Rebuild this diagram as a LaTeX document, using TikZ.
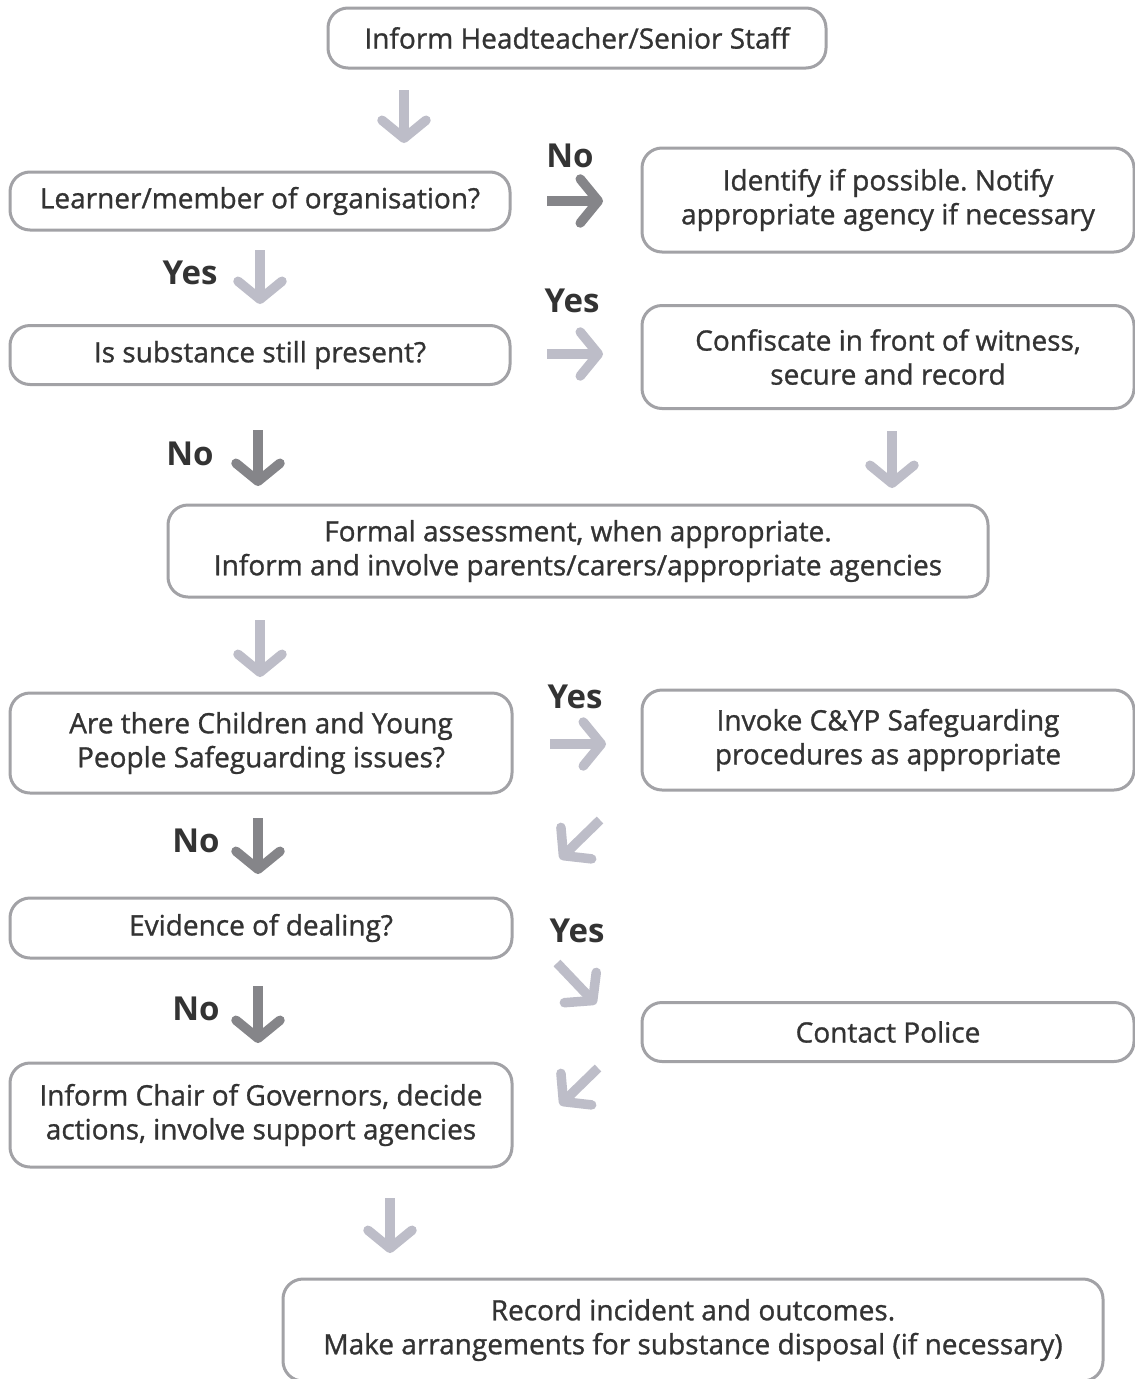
\documentclass[tikz,border=0pt]{standalone}
\usepackage{fontspec}
\setmainfont{Open Sans}
\newfontfamily\medfont{Open Sans}[FakeBold=1]
\usetikzlibrary{arrows.meta}
\frenchspacing
\definecolor{boxline}{HTML}{A2A2A6}
\definecolor{boxtext}{HTML}{333333}
\definecolor{arrlight}{HTML}{BDBDC8}
\definecolor{arrdark}{HTML}{858589}
\tikzset{
  box/.style={draw=boxline, line width=3pt, rounded corners=20pt, fill=white,
    align=center, inner sep=0pt, text=boxtext,
    font=\medfont\fontsize{28}{34}\selectfont\frenchspacing},
  lbl/.style={font=\bfseries\fontsize{33}{36}\selectfont, text=boxtext, inner sep=0pt},
  arr/.style={line width=9.5pt, -{Straight Barb[length=18pt, width=44pt, line width=9.5pt, round]}},
  lightarr/.style={arr, draw=arrlight},
  darkarr/.style={arr, draw=arrdark},
}
\begin{document}
\begin{tikzpicture}[x=1pt,y=-1pt]
\useasboundingbox[fill=white] (0,0) rectangle (1135,1379);

\node[box, minimum width=498pt, minimum height=60pt] (top) at (577,38) {Inform Headteacher/Senior Staff};
\node[box, minimum width=500pt, minimum height=58pt] (learner) at (260,201) {Learner/member of organisation?};
\node[box, minimum width=492pt, minimum height=104pt] (identify) at (888,200) {Identify if possible. Notify\\appropriate agency if necessary};
\node[box, minimum width=500pt, minimum height=59pt] (substance) at (260,355) {Is substance still present?};
\node[box, minimum width=492pt, minimum height=103pt] (confiscate) at (888,357) {Confiscate in front of witness,\\secure and record};
\node[box, minimum width=820pt, minimum height=92pt] (formal) at (578,551) {Formal assessment, when appropriate.\\Inform and involve parents/carers/appropriate agencies};
\node[box, minimum width=502pt, minimum height=100pt] (children) at (261,743) {Are there Children and Young\\People Safeguarding issues?};
\node[box, minimum width=492pt, minimum height=100pt] (invoke) at (888,740) {Invoke C\&YP Safeguarding\\procedures as appropriate};
\node[box, minimum width=502pt, minimum height=60pt] (evidence) at (261,928) {Evidence of dealing?};
\node[box, minimum width=492pt, minimum height=59pt] (police) at (888,1032) {Contact Police};
\node[box, minimum width=502pt, minimum height=104pt] (chair) at (261,1115) {Inform Chair of Governors, decide\\actions, involve support agencies};
\node[box, minimum width=820pt, minimum height=102pt] (record) at (693,1330) {Record incident and outcomes.\\Make arrangements for substance disposal (if necessary)};

% labels
\node[lbl] (l1) at (570,156) {No};
\node[lbl] (l2) at (190,273) {Yes};
\node[lbl] (l3) at (572,301) {Yes};
\node[lbl] (l4) at (190,454) {No};
\node[lbl] (l5) at (575,697) {Yes};
\node[lbl] (l6) at (196,841) {No};
\node[lbl] (l7) at (577,931) {Yes};
\node[lbl] (l8) at (196,1009) {No};

% arrow end points
\coordinate (a1s) at (404,90);   \coordinate (a1e) at (404,143);
\coordinate (a2s) at (547,201);  \coordinate (a2e) at (603,201);
\coordinate (a3s) at (260,250);  \coordinate (a3e) at (260,304);
\coordinate (a4s) at (547,354);  \coordinate (a4e) at (603,354);
\coordinate (a5s) at (258,430);  \coordinate (a5e) at (258,486);
\coordinate (a6s) at (892,431);  \coordinate (a6e) at (892,488);
\coordinate (a7s) at (260,620);  \coordinate (a7e) at (260,677);
\coordinate (a8s) at (550,744);  \coordinate (a8e) at (606,744);
\coordinate (a9s) at (600,820);  \coordinate (a9e) at (560,859);
\coordinate (a10s) at (258,818); \coordinate (a10e) at (258,874);
\coordinate (a11s) at (557,963); \coordinate (a11e) at (596,1004);
\coordinate (a12s) at (258,986); \coordinate (a12e) at (258,1043);
\coordinate (a13s) at (598,1068);\coordinate (a13e) at (560,1105);
\coordinate (a14s) at (390,1198);\coordinate (a14e) at (390,1253);

\draw[lightarr] (a1s) -- (a1e);
\draw[darkarr] (a2s) -- (a2e);
\draw[lightarr] (a3s) -- (a3e);
\draw[lightarr] (a4s) -- (a4e);
\draw[darkarr] (a5s) -- (a5e);
\draw[lightarr] (a6s) -- (a6e);
\draw[lightarr] (a7s) -- (a7e);
\draw[lightarr] (a8s) -- (a8e);
\draw[lightarr] (a9s) -- (a9e);
\draw[darkarr] (a10s) -- (a10e);
\draw[lightarr] (a11s) -- (a11e);
\draw[darkarr] (a12s) -- (a12e);
\draw[lightarr] (a13s) -- (a13e);
\draw[lightarr] (a14s) -- (a14e);
\end{tikzpicture}
\end{document}
